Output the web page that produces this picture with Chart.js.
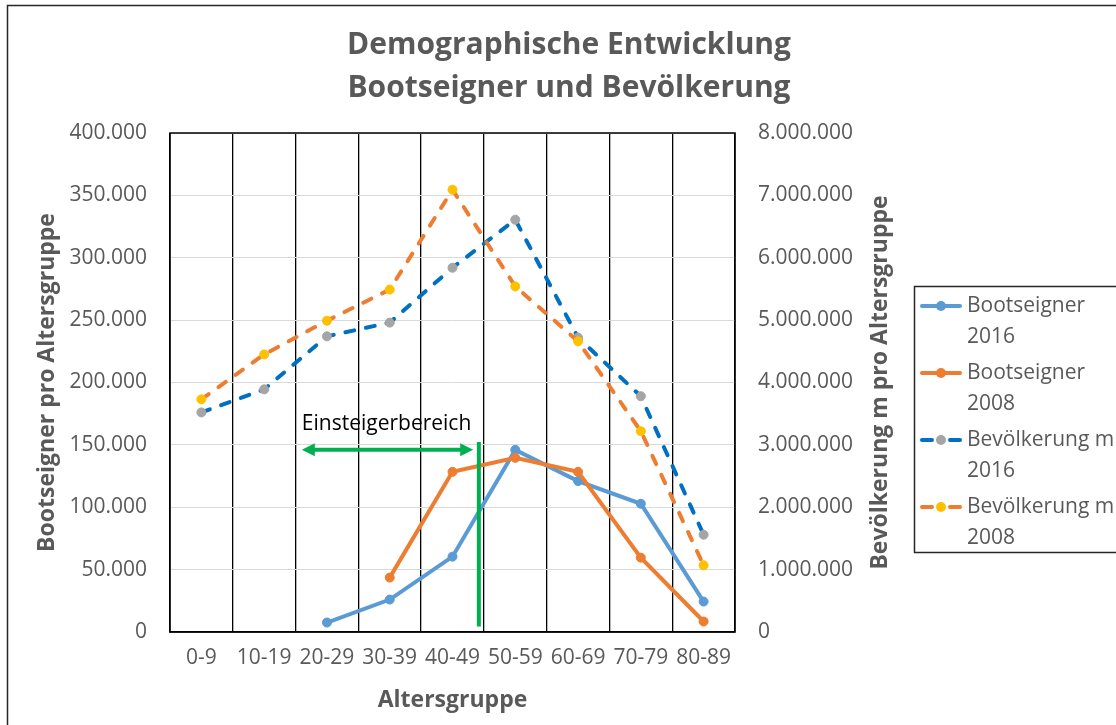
<!DOCTYPE html>
<html>
<head>
<meta charset="utf-8">
<script src="https://cdn.jsdelivr.net/npm/chart.js@4.4.1/dist/chart.umd.min.js"></script>
<style>
  html, body { margin: 0; padding: 0; background: #fff; }
  canvas { display: block; }
</style>
</head>
<body>
<canvas id="c" width="1116" height="725"></canvas>
<script>
// ---- Data ----
const categories = ['0-9', '10-19', '20-29', '30-39', '40-49', '50-59', '60-69', '70-79', '80-89'];
const boatOwners2016 = [null, null, 7600, 26000, 60400, 146000, 121000, 102800, 24400];
const boatOwners2008 = [null, null, null, 43600, 128400, 139600, 128400, 59600, 8400];
const population2016 = [3520000, 3890000, 4740000, 4960000, 5840000, 6610000, 4720000, 3780000, 1560000];
const population2008 = [3730000, 4450000, 4990000, 5490000, 7090000, 5540000, 4660000, 3220000, 1070000];
const leftTickValues = [0, 50000, 100000, 150000, 200000, 250000, 300000, 350000, 400000];
const rightTickValues = [0, 1000000, 2000000, 3000000, 4000000, 5000000, 6000000, 7000000, 8000000];
const seriesNames = [['Bootseigner', '2016'], ['Bootseigner', '2008'], ['Bevölkerung m', '2016'], ['Bevölkerung m', '2008']];
const titleLines = ['Demographische Entwicklung', 'Bootseigner und Bevölkerung'];
const leftAxisTitle = 'Bootseigner pro Altersgruppe';
const rightAxisTitle = 'Bevölkerung m pro Altersgruppe';
const xAxisTitle = 'Altersgruppe';
// annotation (in data space: category index, left-axis value)
const annotationLabel = 'Einsteigerbereich';
const arrowFromIndex = 1.6, arrowToIndex = 4.33, arrowValue = 146000;
const labelValue = 167000;
const markerIndex = 4.42, markerTop = 152400, markerBottom = 4400;

// ---- Styles ----
const FONT = "'Open Sans', 'DejaVu Sans', sans-serif";
const GREY = '#595959';
const C_BLUE = '#5B9BD5', C_ORANGE = '#ED7D31', C_DBLUE = '#0070C0', C_GREY = '#A5A5A5', C_YELLOW = '#FFC000', C_GREEN = '#00B050';

function fmt(v) { return v === 0 ? '0' : String(v).replace(/\B(?=(\d{3})+(?!\d))/g, '.'); }

const decorPlugin = {
  id: 'decor',
  beforeDraw(chart) {
    const ctx = chart.ctx;
    ctx.save();
    ctx.fillStyle = '#fff';
    ctx.fillRect(0, 0, chart.width, chart.height);
    ctx.strokeStyle = '#262626';
    ctx.lineWidth = 1.5;
    ctx.strokeRect(7.5, 5.5, 1300, 900);
    // title
    ctx.fillStyle = GREY;
    ctx.font = 'bold 30px ' + FONT;
    ctx.textAlign = 'center';
    ctx.textBaseline = 'middle';
    ctx.fillText(titleLines[0], 569, 45);
    ctx.fillText(titleLines[1], 569, 88);
    // axis titles
    const a = chart.chartArea;
    ctx.font = 'bold 23px ' + FONT;
    ctx.save();
    ctx.translate(47, (a.top + a.bottom) / 2);
    ctx.rotate(-Math.PI / 2);
    ctx.fillText(leftAxisTitle, 0, 0);
    ctx.restore();
    ctx.save();
    ctx.translate(880, (a.top + a.bottom) / 2);
    ctx.rotate(-Math.PI / 2);
    ctx.fillText(rightAxisTitle, 0, 0);
    ctx.restore();
    ctx.fillText(xAxisTitle, (a.left + a.right) / 2, 700);
    ctx.restore();
  },
  beforeDatasetsDraw(chart) {
    const a = chart.chartArea, ctx = chart.ctx;
    ctx.save();
    ctx.strokeStyle = '#000';
    ctx.lineWidth = 1.5;
    ctx.strokeRect(a.left, a.top, a.right - a.left, a.bottom - a.top);
    ctx.restore();
  },
  afterDatasetsDraw(chart) {
    const ctx = chart.ctx, x = chart.scales.x, y = chart.scales.y;
    ctx.save();
    // label
    ctx.fillStyle = '#000';
    ctx.font = '21px ' + FONT;
    ctx.textAlign = 'left';
    ctx.textBaseline = 'middle';
    ctx.fillText(annotationLabel, x.getPixelForValue(arrowFromIndex), y.getPixelForValue(labelValue));
    // double arrow
    const x1 = x.getPixelForValue(arrowFromIndex), x2 = x.getPixelForValue(arrowToIndex), ay = y.getPixelForValue(arrowValue);
    ctx.strokeStyle = C_GREEN; ctx.fillStyle = C_GREEN; ctx.lineWidth = 4;
    ctx.beginPath(); ctx.moveTo(x1 + 10, ay); ctx.lineTo(x2 - 10, ay); ctx.stroke();
    ctx.beginPath(); ctx.moveTo(x1, ay); ctx.lineTo(x1 + 13, ay - 6.5); ctx.lineTo(x1 + 13, ay + 6.5); ctx.closePath(); ctx.fill();
    ctx.beginPath(); ctx.moveTo(x2, ay); ctx.lineTo(x2 - 13, ay - 6.5); ctx.lineTo(x2 - 13, ay + 6.5); ctx.closePath(); ctx.fill();
    // vertical marker
    const mx = x.getPixelForValue(markerIndex);
    ctx.beginPath(); ctx.moveTo(mx, y.getPixelForValue(markerTop)); ctx.lineTo(mx, y.getPixelForValue(markerBottom)); ctx.stroke();
    ctx.restore();
  },
  afterDraw(chart) {
    const ctx = chart.ctx;
    ctx.save();
    ctx.strokeStyle = '#262626';
    ctx.lineWidth = 1.5;
    ctx.strokeRect(914.5, 286.5, 400, 266);
    const rows = [306, 373, 440, 507];
    const lineCols = [C_BLUE, C_ORANGE, C_DBLUE, C_ORANGE];
    const ptCols = [C_BLUE, C_ORANGE, C_GREY, C_YELLOW];
    ctx.font = '21px ' + FONT;
    ctx.textAlign = 'left';
    ctx.textBaseline = 'middle';
    rows.forEach((ry, i) => {
      ctx.strokeStyle = lineCols[i];
      ctx.lineWidth = 4;
      ctx.lineCap = 'round';
      ctx.beginPath();
      if (i < 2) { ctx.moveTo(922, ry); ctx.lineTo(960, ry); }
      else { ctx.moveTo(922, ry); ctx.lineTo(932, ry); ctx.moveTo(950, ry); ctx.lineTo(960, ry); }
      ctx.stroke();
      ctx.fillStyle = ptCols[i];
      ctx.beginPath(); ctx.arc(941, ry, 5, 0, Math.PI * 2); ctx.fill();
      ctx.fillStyle = GREY;
      ctx.fillText(seriesNames[i][0], 967, ry);
      ctx.fillText(seriesNames[i][1], 967, ry + 31);
    });
    ctx.restore();
  }
};

const tickFont = { family: FONT, size: 21 };

new Chart(document.getElementById('c'), {
  type: 'line',
  data: {
    labels: categories,
    datasets: [
      { label: seriesNames[0].join(' '), data: boatOwners2016, yAxisID: 'y', order: 4,
        borderColor: C_BLUE, backgroundColor: C_BLUE, borderWidth: 4, pointRadius: 4.5, pointBorderWidth: 1,
        pointBackgroundColor: C_BLUE, pointBorderColor: C_BLUE, tension: 0 },
      { label: seriesNames[1].join(' '), data: boatOwners2008, yAxisID: 'y', order: 3,
        borderColor: C_ORANGE, backgroundColor: C_ORANGE, borderWidth: 4, pointRadius: 4.5, pointBorderWidth: 1,
        pointBackgroundColor: C_ORANGE, pointBorderColor: C_ORANGE, tension: 0 },
      { label: seriesNames[2].join(' '), data: population2016, yAxisID: 'y1', order: 2,
        borderColor: C_DBLUE, backgroundColor: C_GREY, borderWidth: 4, borderDash: [9, 12], borderCapStyle: 'round',
        pointRadius: 4.5, pointBorderWidth: 1, pointBackgroundColor: C_GREY, pointBorderColor: C_GREY, tension: 0 },
      { label: seriesNames[3].join(' '), data: population2008, yAxisID: 'y1', order: 1,
        borderColor: C_ORANGE, backgroundColor: C_YELLOW, borderWidth: 4, borderDash: [9, 12], borderCapStyle: 'round',
        pointRadius: 4.5, pointBorderWidth: 1, pointBackgroundColor: C_YELLOW, pointBorderColor: C_YELLOW, tension: 0 }
    ]
  },
  options: {
    responsive: false,
    animation: false,
    devicePixelRatio: 1,
    events: [],
    layout: { padding: { left: 10, right: 240, top: 133, bottom: 0 } },
    plugins: { legend: { display: false }, title: { display: false }, tooltip: { enabled: false } },
    scales: {
      x: {
        type: 'category',
        offset: true,
        grid: { display: true, offset: true, color: '#000', lineWidth: 1.3, drawTicks: false },
        border: { display: true, color: '#000', width: 1.5 },
        ticks: { font: tickFont, color: GREY, padding: 13, autoSkip: false, maxRotation: 0 },
        afterFit(s) { s.height = 93; }
      },
      y: {
        position: 'left',
        min: 0, max: 400000,
        afterBuildTicks(s) { s.ticks = leftTickValues.map(v => ({ value: v })); },
        grid: { color: '#d9d9d9', lineWidth: 1, drawTicks: false },
        border: { display: false },
        ticks: { font: tickFont, color: GREY, padding: 23, callback: v => fmt(v) },
        afterFit(s) { s.width = 160; }
      },
      y1: {
        position: 'right',
        min: 0, max: 8000000,
        afterBuildTicks(s) { s.ticks = rightTickValues.map(v => ({ value: v })); },
        grid: { display: false, drawTicks: false },
        border: { display: false },
        ticks: { font: tickFont, color: GREY, padding: 23, callback: v => fmt(v) },
        afterFit(s) { s.width = 141; }
      }
    }
  },
  plugins: [decorPlugin]
});
</script>
</body>
</html>
